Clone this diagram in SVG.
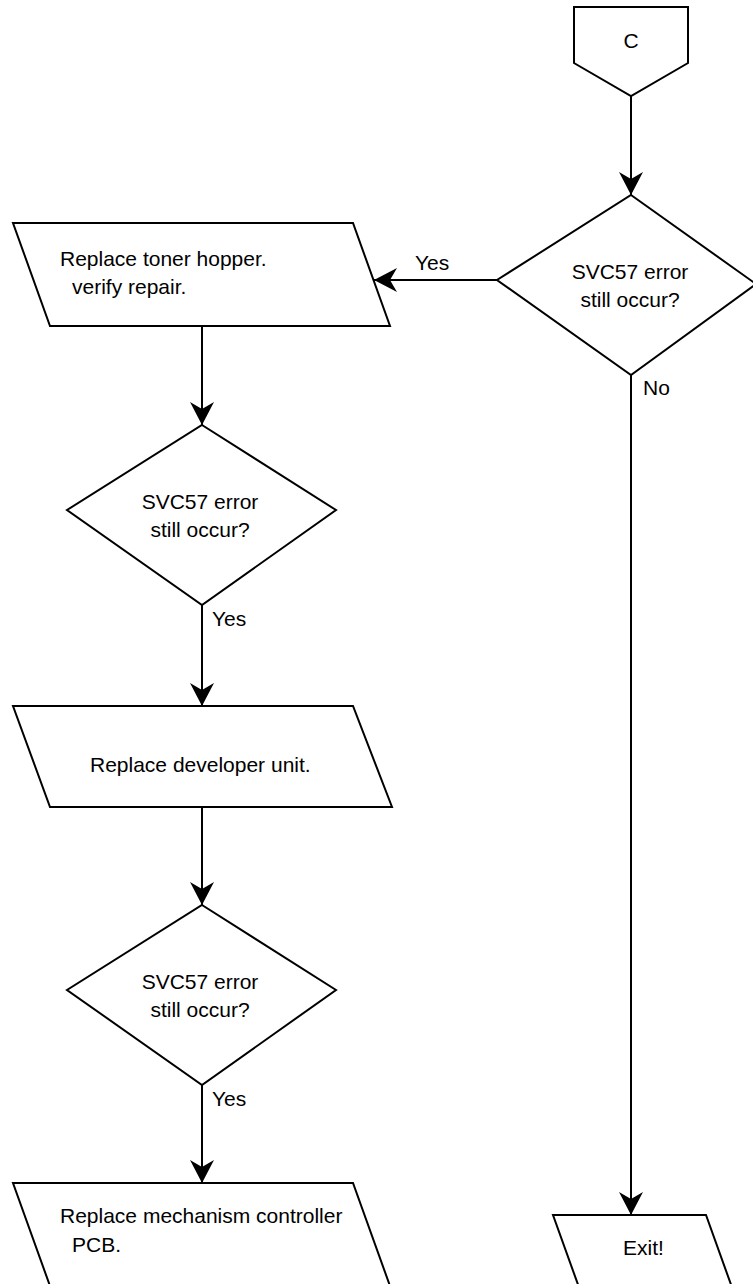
<svg xmlns="http://www.w3.org/2000/svg" width="753" height="1284" viewBox="0 0 753 1284">
<style>
.shape{fill:#ffffff;stroke:#000000;stroke-width:2;stroke-linejoin:miter}
.edge{fill:none;stroke:#000000;stroke-width:2}
.t{font-family:"Liberation Sans",Arial,Helvetica,sans-serif;font-size:21px;fill:#000000}
.c{text-anchor:middle}
</style>
<defs>
<marker id="arr" markerUnits="userSpaceOnUse" markerWidth="26" markerHeight="26" viewBox="-24 -13 26 26" refX="0" refY="0" orient="auto">
<path d="M0,0 L-23,-12 L-16,0 L-23,12 Z" fill="#000000" stroke="none"/>
</marker>
</defs>
<rect x="0" y="0" width="753" height="1284" fill="#ffffff"/>
<g id="connectors">
<line class="edge" x1="631" y1="96" x2="631" y2="195" marker-end="url(#arr)"/>
<line class="edge" x1="497" y1="280" x2="374" y2="280" marker-end="url(#arr)"/>
<line class="edge" x1="631" y1="375" x2="631" y2="1215" marker-end="url(#arr)"/>
<line class="edge" x1="202" y1="326" x2="202" y2="425" marker-end="url(#arr)"/>
<line class="edge" x1="202" y1="605" x2="202" y2="706" marker-end="url(#arr)"/>
<line class="edge" x1="202" y1="807" x2="202" y2="905" marker-end="url(#arr)"/>
<line class="edge" x1="202" y1="1085" x2="202" y2="1183" marker-end="url(#arr)"/>
<text class="t" x="415" y="270">Yes</text>
<text class="t" x="643" y="395">No</text>
<text class="t" x="212" y="626">Yes</text>
<text class="t" x="212" y="1106">Yes</text>
</g>
<g id="offpage-c">
<polygon class="shape" points="574,7 688,7 688,63 631,96 574,63"/>
<text class="t c" x="631" y="48">C</text>
</g>
<g id="decision-1">
<polygon class="shape" points="631,195 756,284 631,375 497,280"/>
<text class="t c" x="630" y="279">SVC57 error</text>
<text class="t c" x="630" y="307">still occur?</text>
</g>
<g id="process-toner">
<polygon class="shape" points="13,223 353,223 390,326 50,326"/>
<text class="t" x="60" y="266">Replace toner hopper.</text>
<text class="t" x="72" y="294">verify repair.</text>
</g>
<g id="decision-2">
<polygon class="shape" points="202,425 336,510 202,605 67,510"/>
<text class="t c" x="200" y="509">SVC57 error</text>
<text class="t c" x="200" y="537">still occur?</text>
</g>
<g id="process-developer">
<polygon class="shape" points="13,706 353,706 392,807 50,807"/>
<text class="t" x="90" y="772">Replace developer unit.</text>
</g>
<g id="decision-3">
<polygon class="shape" points="202,905 336,990 202,1085 67,990"/>
<text class="t c" x="200" y="989">SVC57 error</text>
<text class="t c" x="200" y="1017">still occur?</text>
</g>
<g id="process-pcb">
<polygon class="shape" points="13,1183 353,1183 390,1286 50,1286"/>
<text class="t" x="60" y="1223">Replace mechanism controller</text>
<text class="t" x="72" y="1252">PCB.</text>
</g>
<g id="exit">
<polygon class="shape" points="553,1215 706,1215 743,1318 590,1318"/>
<text class="t" x="623" y="1255">Exit!</text>
</g>
</svg>
